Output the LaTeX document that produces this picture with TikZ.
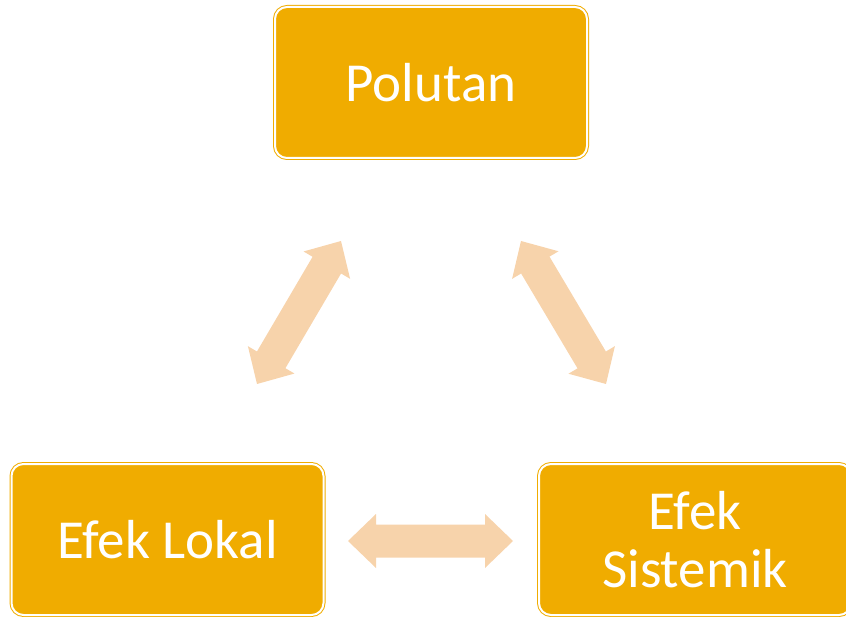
\documentclass[tikz,border=0pt]{standalone}
\usepackage{fontspec}
\setmainfont{Carlito}
\usetikzlibrary{calc}
\definecolor{boxorange}{HTML}{F0AC00}
\definecolor{arrowtan}{HTML}{F7D3AB}
\tikzset{
  box/.style={draw=boxorange, line width=1pt, double=white, double distance=2pt,
    fill=boxorange, rounded corners=12pt, minimum width=312pt, minimum height=151pt,
    inner sep=0pt, text=white, align=center, font=\fontsize{55}{58}\selectfont},
  arrowfill/.style={fill=arrowtan, draw=none}
}
\newcommand{\blockarrow}[2]{%
  \coordinate (h1) at ($(#1)!28pt!(#2)$);
  \coordinate (h2) at ($(#2)!28pt!(#1)$);
  \path[arrowfill] (#1) -- ($(h1)!27pt!90:(#2)$) -- ($(h1)!16.5pt!90:(#2)$)
    -- ($(h2)!16.5pt!-90:(#1)$) -- ($(h2)!27pt!-90:(#1)$) -- (#2)
    -- ($(h2)!27pt!90:(#1)$) -- ($(h2)!16.5pt!90:(#1)$)
    -- ($(h1)!16.5pt!-90:(#2)$) -- ($(h1)!27pt!-90:(#2)$) -- cycle;
}
\begin{document}
\begin{tikzpicture}[x=1pt,y=-1pt]
\useasboundingbox (0,0) rectangle (846,617);
\clip (0,0) rectangle (846,617);
\node[box] (pol) at (431,82.5) {Polutan};
\node[box] (lok) at (167.5,539.5) {Efek Lokal};
\node[box] (sis) at (695,539.5) {Efek\\Sistemik};
\coordinate (a1) at (257,384);
\coordinate (b1) at (341,241);
\coordinate (a2) at (521,241);
\coordinate (b2) at (606,384);
\coordinate (a3) at (348,541);
\coordinate (b3) at (513,541);
\blockarrow{a1}{b1}
\blockarrow{a2}{b2}
\blockarrow{a3}{b3}
\end{tikzpicture}
\end{document}
